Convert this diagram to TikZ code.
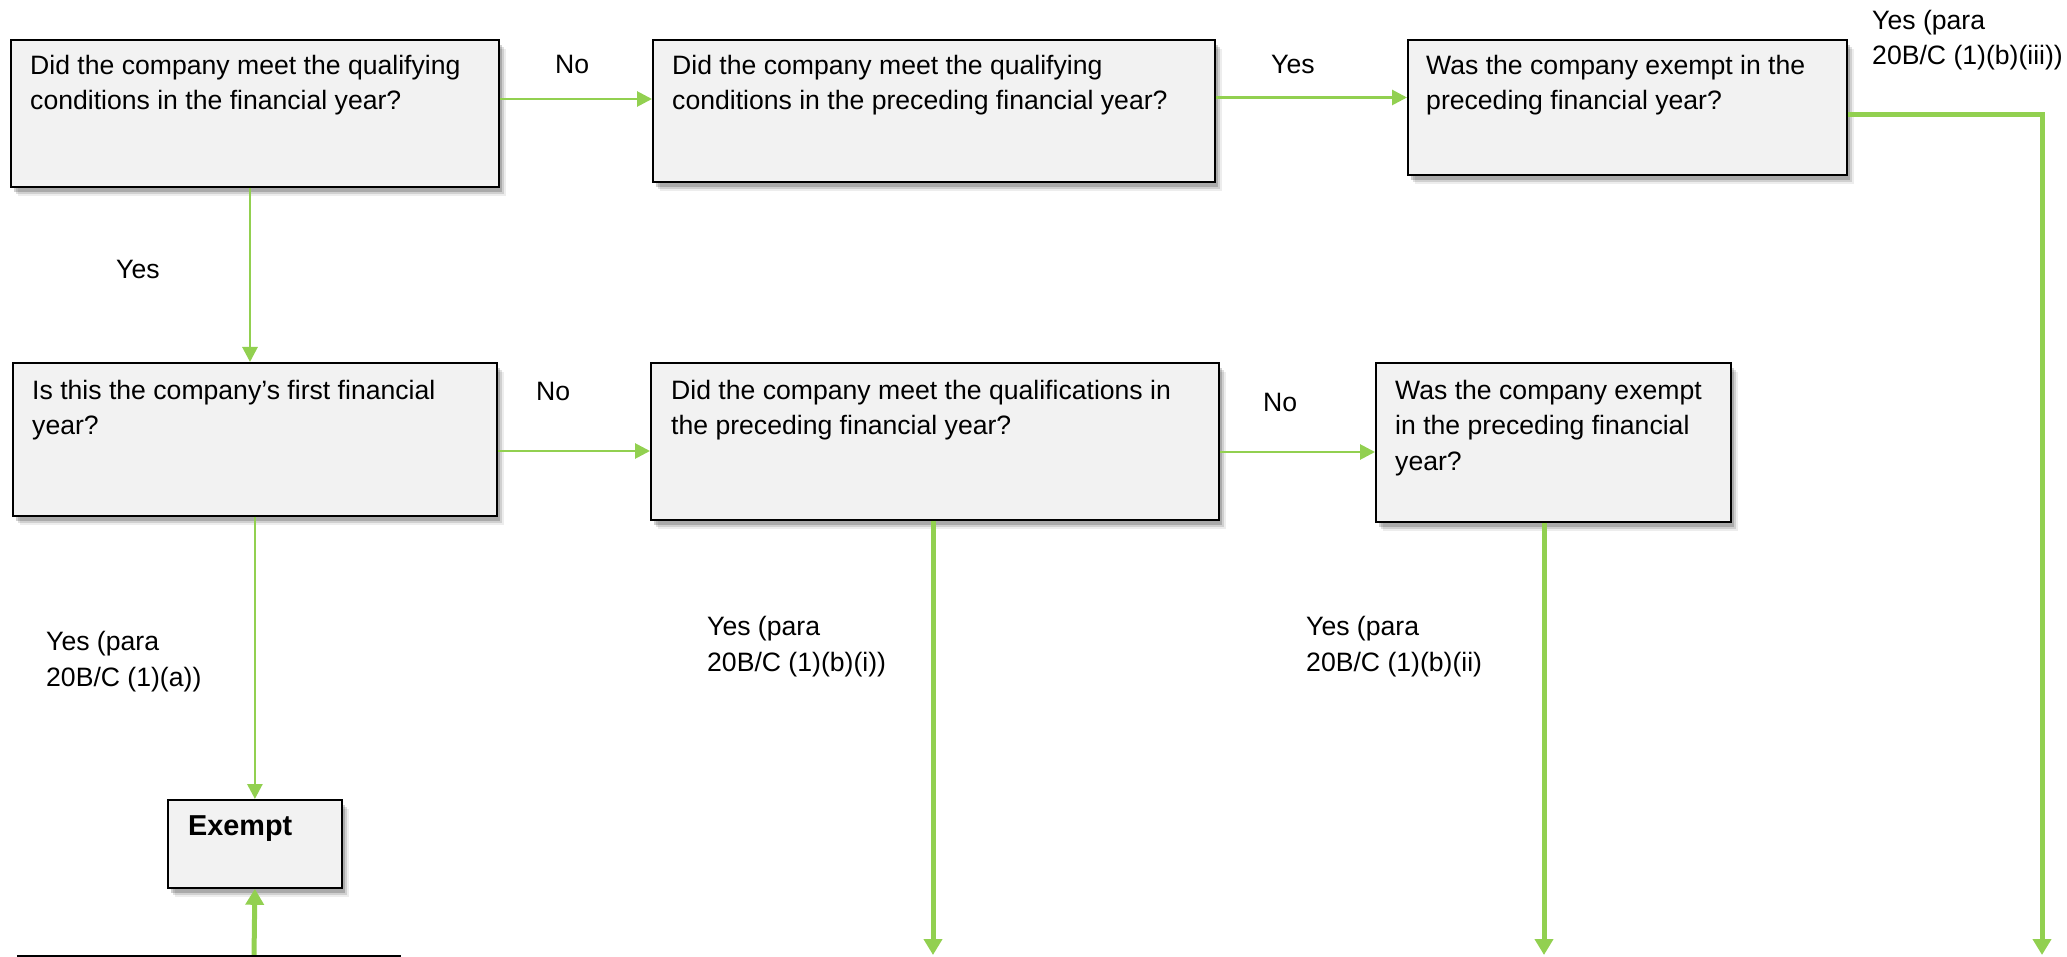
\documentclass[tikz,border=0pt]{standalone}
\usepackage{fontspec}
\setmainfont{Liberation Sans}
\usetikzlibrary{arrows.meta,shadows,calc}
\definecolor{grn}{HTML}{92D050}
\definecolor{boxfill}{HTML}{F2F2F2}
\tikzset{
 qbox/.style={draw=black, line width=1.8pt, fill=boxfill,
   drop shadow={shadow xshift=7pt,shadow yshift=-9pt,fill=black,opacity=0.07},
   drop shadow={shadow xshift=5pt,shadow yshift=-7pt,fill=black,opacity=0.12},
   drop shadow={shadow xshift=3pt,shadow yshift=-5pt,fill=black,opacity=0.18},
   inner sep=0pt, anchor=north west},
 qtext/.style={anchor=north west, align=left, inner sep=0pt, font=\fontsize{26.6}{35.4}\selectfont},
 lbl/.style={anchor=west, align=left, inner sep=0pt, font=\fontsize{26.6}{35.4}\selectfont},
 garrow/.style={draw=grn, line width=2.8pt, -{Triangle[length=15pt,width=15pt]}},
 gthick/.style={draw=grn, line width=5pt, -{Triangle[length=16pt,width=18pt]}},
}
\begin{document}
\begin{tikzpicture}[x=1pt,y=-1pt]
\useasboundingbox (0,0) rectangle (2067,957);
% boxes
\node[qbox, minimum width=488pt, minimum height=147pt] (A) at (10,39) {};
\node[qbox, minimum width=562pt, minimum height=142pt] (B) at (652,39) {};
\node[qbox, minimum width=439pt, minimum height=135pt] (C) at (1407,39) {};
\node[qbox, minimum width=484pt, minimum height=153pt] (D) at (12,362) {};
\node[qbox, minimum width=568pt, minimum height=157pt] (E) at (650,362) {};
\node[qbox, minimum width=355pt, minimum height=159pt] (F) at (1375,362) {};
\node[qbox, minimum width=174pt, minimum height=88pt] (X) at (167,799) {};
% box texts
\node[qtext] (tA) at (30,54.6) {Did the company meet the qualifying\\conditions in the financial year?};
\node[qtext] (tB) at (672,54.6) {Did the company meet the qualifying\\conditions in the preceding financial year?};
\node[qtext] (tC) at (1426,54.6) {Was the company exempt in the\\preceding financial year?};
\node[qtext] (tD) at (32,380) {Is this the company’s first financial\\year?};
\node[qtext] (tE) at (671,380) {Did the company meet the qualifications in\\the preceding financial year?};
\node[qtext] (tF) at (1395,380) {Was the company exempt\\in the preceding financial\\year?};
\node[anchor=west, inner sep=0pt, font=\fontsize{28.8}{34}\selectfont\bfseries] (tX) at (188,829) {Exempt};
% coordinates
\coordinate (c1) at (2042,955);
\coordinate (eb) at (933,955);
\coordinate (fb) at (1544,955);
\coordinate (xb) at (254,957);
\coordinate (l1) at (17,956);
\coordinate (l2) at (401,956);
% connectors
\draw[garrow] (A.east |- 0,99) -- (B.west |- 0,99);
\draw[garrow] (B.east |- 0,97.5) -- (C.west |- 0,97.5);
\draw[gthick] (C.east |- 0,115) -| (c1);
\draw[garrow] (A.south -| 250,0) -- (D.north -| 250,0);
\draw[garrow] (D.east |- 0,451) -- (E.west |- 0,451);
\draw[garrow] (E.east |- 0,452) -- (F.west |- 0,452);
\draw[gthick] (E.south -| eb) -- (eb);
\draw[gthick] (F.south -| fb) -- (fb);
\draw[garrow] (D.south) -- (X.north);
\draw[gthick] (xb) -- (X.south);
\draw[line width=2pt] (l1) -- (l2);
% labels
\node[lbl] (n1) at (555,64.6) {No};
\node[lbl] (y1) at (1271,64.6) {Yes};
\node[lbl] (y2) at (1872,40) {Yes (para\\20B/C (1)(b)(iii))};
\node[lbl] (y3) at (116,269) {Yes};
\node[lbl] (n2) at (536,391.5) {No};
\node[lbl] (n3) at (1263,402) {No};
\node[lbl] (y4) at (46,661.5) {Yes (para\\20B/C (1)(a))};
\node[lbl] (y5) at (707,646.5) {Yes (para\\20B/C (1)(b)(i))};
\node[lbl] (y6) at (1306,646.5) {Yes (para\\20B/C (1)(b)(ii)};
\end{tikzpicture}
\end{document}
